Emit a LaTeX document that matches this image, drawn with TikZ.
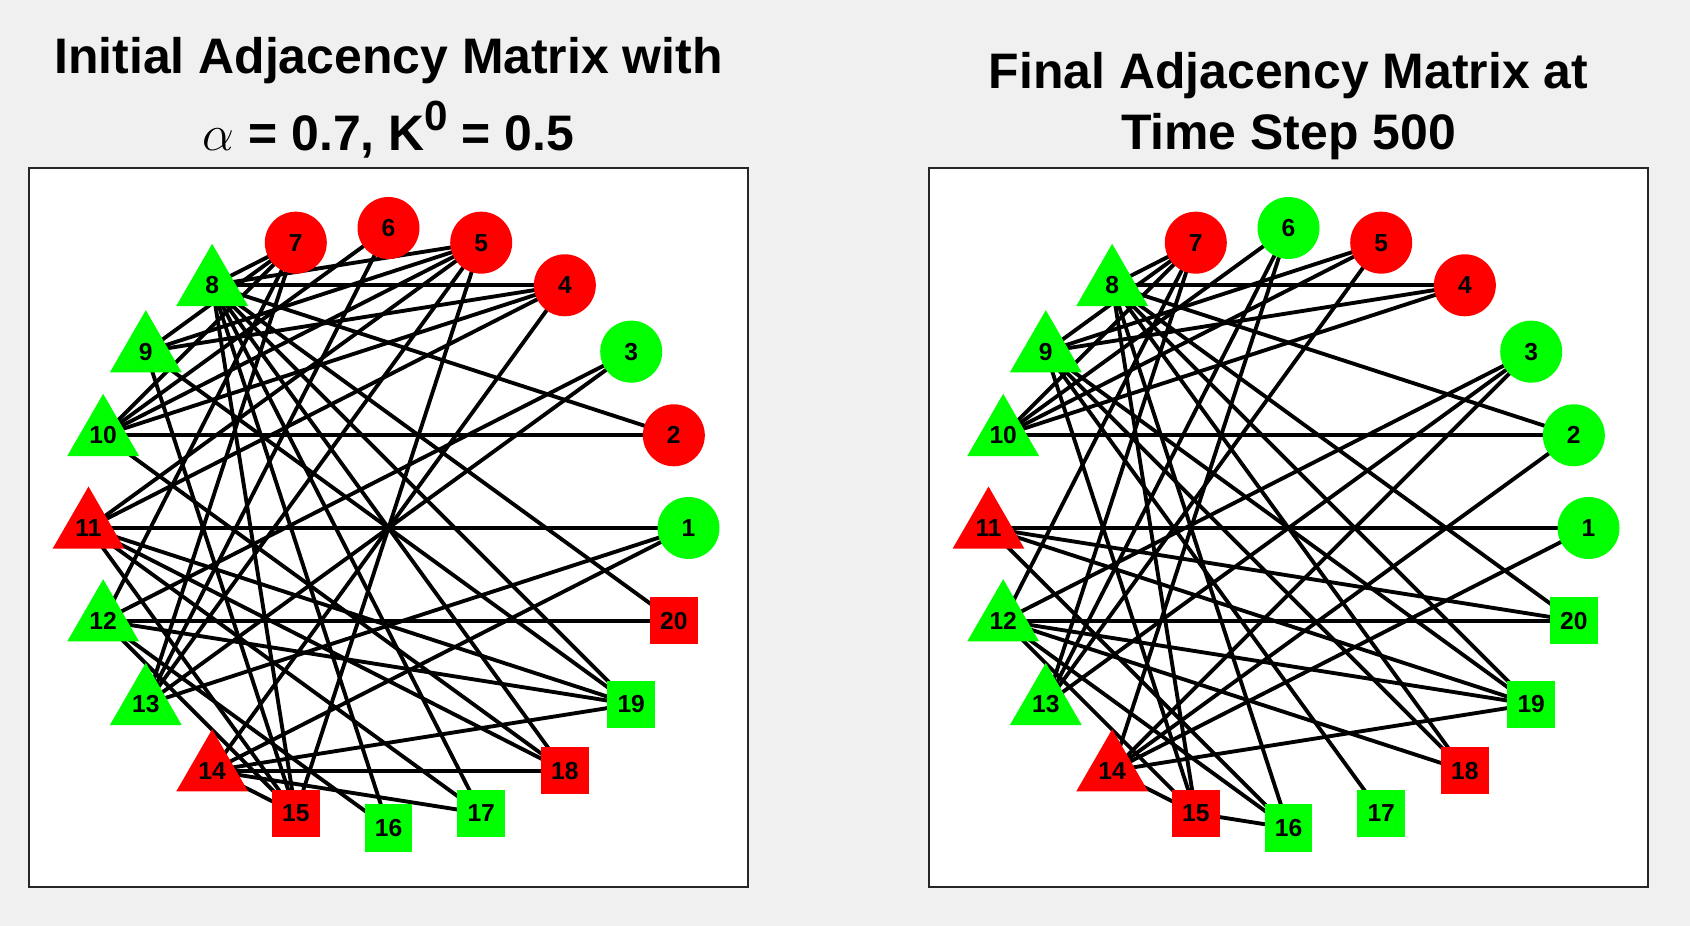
\documentclass[tikz,border=0pt]{standalone}
\usepackage{fontspec}
\setmainfont{Liberation Sans}
\usetikzlibrary{shapes.geometric}
\definecolor{matred}{RGB}{255,0,0}
\definecolor{matgreen}{RGB}{0,255,0}
\definecolor{figgray}{RGB}{240,240,240}
\definecolor{axgray}{RGB}{38,38,38}
\pgfdeclarelayer{back}
\pgfdeclarelayer{edges}
\pgfsetlayers{back,edges,main}

\begin{document}
\begin{tikzpicture}[
			x=0.1mm, y=0.1mm,
			edge/.style={line width=1.1pt, black},
			ball/.style={circle, minimum size=6.2mm, inner sep=0pt},
			tri/.style={regular polygon, regular polygon sides=3, minimum size=8.3mm, inner sep=0pt},
			box/.style={rectangle, minimum size=4.75mm, inner sep=0pt},
			lbl/.style={font=\fontsize{7}{8}\selectfont\bfseries},
			ttl/.style={font=\fontsize{14.2}{17}\selectfont\bfseries, anchor=base, inner sep=0pt}
		]
		\useasboundingbox (0,0) rectangle (1690,926);

		\begin{pgfonlayer}{back}
			\fill[figgray] (0,0) rectangle (1690,926);
			\draw[axgray, line width=0.3pt, fill=white] (29,39) rectangle (748,758);
			\draw[axgray, line width=0.3pt, fill=white] (929,39) rectangle (1648,758);
		\end{pgfonlayer}

		\coordinate (Lc) at (388.5,398);
		\coordinate (Rc) at (1288.5,398);

		% initial graph
		\foreach \k/\s/\c in {1/ball/matgreen, 2/ball/matred, 3/ball/matgreen, 4/ball/matred,
				5/ball/matred, 6/ball/matred, 7/ball/matred, 8/tri/matgreen, 9/tri/matgreen,
				10/tri/matgreen, 11/tri/matred, 12/tri/matgreen, 13/tri/matgreen, 14/tri/matred,
				15/box/matred, 16/box/matgreen, 17/box/matgreen, 18/box/matred, 19/box/matgreen,
				20/box/matred}
			\node[\s, fill=\c, lbl] (L\k) at ([shift={({(\k-1)*18}:300)}]Lc) {\k};

		% final graph
		\foreach \k/\s/\c in {1/ball/matgreen, 2/ball/matgreen, 3/ball/matgreen, 4/ball/matred,
				5/ball/matred, 6/ball/matgreen, 7/ball/matred, 8/tri/matgreen, 9/tri/matgreen,
				10/tri/matgreen, 11/tri/matred, 12/tri/matgreen, 13/tri/matgreen, 14/tri/matred,
				15/box/matred, 16/box/matgreen, 17/box/matgreen, 18/box/matred, 19/box/matgreen,
				20/box/matgreen}
			\node[\s, fill=\c, lbl] (R\k) at ([shift={({(\k-1)*18}:300)}]Rc) {\k};

		\begin{pgfonlayer}{edges}
			\foreach \a/\b in {1/11, 1/13, 1/14, 2/10, 2/8, 3/12, 3/13, 4/8, 4/9, 4/10, 4/11, 4/14,
					5/8, 5/9, 5/10, 5/11, 5/13, 5/15, 6/10, 6/13, 7/8, 7/9, 7/10, 7/12, 7/13,
					8/15, 8/16, 8/17, 8/18, 8/19, 8/20, 9/15, 9/19, 10/18, 11/15, 11/17, 11/18, 11/19,
					12/15, 12/16, 12/19, 12/20, 14/15, 14/17, 14/18, 14/19}
				\draw[edge] (L\a.center) -- (L\b.center);
			\foreach \a/\b in {1/11, 1/14, 2/10, 2/8, 2/14, 3/12, 3/13, 3/14, 4/8, 4/9, 4/10,
					5/9, 5/10, 5/13, 6/10, 6/13, 6/14, 7/8, 7/9, 7/10, 7/12, 7/13,
					8/15, 8/16, 8/18, 8/19, 8/20, 9/15, 9/17, 9/18, 9/19, 11/16, 11/19, 11/20,
					12/15, 12/16, 12/18, 12/19, 12/20, 14/15, 14/19, 15/16}
				\draw[edge] (R\a.center) -- (R\b.center);
		\end{pgfonlayer}

		\node[ttl] (t1) at (388.5,852.5) {Initial Adjacency Matrix with};
		\node[ttl] (t2) at (388.5,775) {$\alpha$ = 0.7, K\raisebox{0.42em}{\fontsize{12}{14}\selectfont 0} = 0.5};
		\node[ttl] (t3) at (1288.5,837.5) {Final Adjacency Matrix at};
		\node[ttl] (t4) at (1288.5,776) {Time Step 500};
	\end{tikzpicture}
\end{document}
